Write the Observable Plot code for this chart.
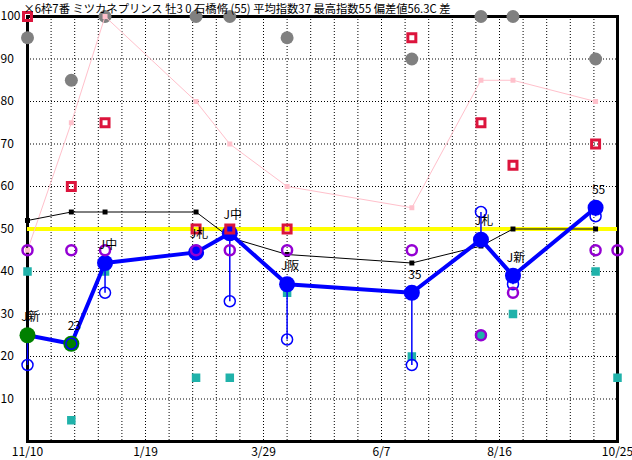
<!DOCTYPE html>
<html>
<head>
<meta charset="utf-8">
<script src="https://cdn.jsdelivr.net/npm/d3@7"></script>
<script src="https://cdn.jsdelivr.net/npm/@observablehq/plot@0.6"></script>
<style>
  html, body { margin: 0; padding: 0; background: #fff; }
  #chart svg { display: block; }
</style>
</head>
<body>
<div id="chart"></div>
<script>
const titleText = "×6枠7番 ミツカネプリンス 牡3 0 石橋脩 (55) 平均指数37 最高指数55 偏差値56.3C 差";

const raceDates = ["2023-11-10","2023-12-06","2023-12-26","2024-02-18","2024-03-09","2024-04-12","2024-06-25","2024-08-05","2024-08-24","2024-10-12"];
const mainIndex = [25, 23, 42, 44.5, 49, 37, 35, 47.5, 39, 55];
const raceLabels = ["J新", "23", "J中", "J札", "J中", "J阪", "35", "J札", "J新", "55"];
const pointColor = ["green", "green", "blue", "blue", "blue", "blue", "blue", "blue", "blue", "blue"];
const ringIndex = [18, 23, 35, 44.5, 33, 24, 18, 54, 37, 53];
const grayVals = [95, 85, 100, 100, 100, 95, 90, 100, 100, 90];
const pinkVals = [45, 75, 100, 80, 70, 60, 55, 85, 85, 80];
const blackVals = [52, 54, 54, 54, 48, 44, 42, 46, 50, 50];
const crimsonVals = [100, 60, 75, 50, 50, 50, 95, 75, 65, 70];

const extDates = [...raceDates, "2024-10-25"];
const purpleVals = [45, 45, 45, 45, 45, 45, 45, 25, 35, 45, 45];
const tealVals = [40, 5, 40, 15, 15, 35, 20, 25, 30, 40, 15];

const refLine = 50;
const yTicks = [10, 20, 30, 40, 50, 60, 70, 80, 90, 100];
const xTickDates = ["2023-11-10", "2024-01-19", "2024-03-29", "2024-06-07", "2024-08-16", "2024-10-25"];
const xTickLabels = ["11/10", "1/19", "3/29", "6/7", "8/16", "10/25"];
const gridStepDays = 14;

const P = s => new Date(s + "T00:00:00Z");
const races = raceDates.map((d, i) => ({
  date: P(d), v: mainIndex[i], label: raceLabels[i], color: pointColor[i],
  ring: ringIndex[i], gray: grayVals[i], pink: pinkVals[i], black: blackVals[i], crimson: crimsonVals[i]
}));
const ext = extDates.map((d, i) => ({ date: P(d), purple: purpleVals[i], teal: tealVals[i] }));
const xStart = P(xTickDates[0]), xEnd = P(xTickDates[xTickDates.length - 1]);
const gridDates = d3.utcDay.range(xStart, d3.utcDay.offset(xEnd, 1), 1).filter((d, i) => i % gridStepDays === 0);
const tickMap = new Map(xTickDates.map((d, i) => [+P(d), xTickLabels[i]]));

const font = "'Noto Sans CJK JP', sans-serif";

const chart = Plot.plot({
  width: 632,
  height: 460,
  marginLeft: 27,
  marginRight: 15,
  marginTop: 16,
  marginBottom: 19,
  style: { fontFamily: font, fontSize: "12px", background: "white", color: "black" },
  x: { type: "utc", domain: [xStart, xEnd] },
  y: { domain: [0, 100], axis: null },
  marks: [
    Plot.gridY(yTicks.slice(0, -1), { stroke: "black", strokeOpacity: 1, strokeDasharray: "1,2" }),
    Plot.gridX(gridDates.slice(1, -1), { stroke: "black", strokeOpacity: 1, strokeDasharray: "1,2" }),
    Plot.frame({ stroke: "black", strokeWidth: 3 }),
    Plot.text(yTicks, { y: d => d, text: d => String(d), frameAnchor: "left", dx: -27, textAnchor: "start", fontSize: 12, fill: "black" }),
    Plot.axisX(xTickDates.map(P), { tickSize: 0, tickPadding: 6, label: null, tickFormat: d => tickMap.get(+d), fontSize: 12 }),
    Plot.ruleY([refLine], { stroke: "#ffff00", strokeWidth: 4 }),
    Plot.dot(races, { x: "date", y: "gray", r: 6.5, fill: "#808080" }),
    Plot.line(races, { x: "date", y: "pink", stroke: "#ffc0cb", strokeWidth: 1 }),
    Plot.dot(races, { x: "date", y: "pink", symbol: "square", r: 2.8, fill: "#ffc0cb" }),
    Plot.line(races, { x: "date", y: "black", stroke: "black", strokeWidth: 1 }),
    Plot.dot(races, { x: "date", y: "black", symbol: "square", r: 2.8, fill: "black" }),
    Plot.dot(ext, { x: "date", y: "teal", symbol: "square", r: 4.8, fill: "#20b2aa" }),
    Plot.link(races, { x1: "date", x2: "date", y1: "v", y2: "ring", stroke: "blue", strokeWidth: 1.5 }),
    Plot.line(races, { x: "date", y: "v", stroke: "blue", strokeWidth: 4 }),
    Plot.dot(races, { x: "date", y: "v", r: 8, fill: "color" }),
    Plot.dot(races, { x: "date", y: "ring", r: 5.5, stroke: "blue", strokeWidth: 1.5, fill: "none" }),
    Plot.dot(ext, { x: "date", y: "purple", r: 5, stroke: "#9400d3", strokeWidth: 2.5, fill: "none" }),
    Plot.dot(races, { x: "date", y: "crimson", symbol: "square", r: 4.5, stroke: "#dc143c", strokeWidth: 3, fill: "none" }),
    Plot.text(races, { x: "date", y: "v", text: "label", dy: -18, dx: 3, fontSize: 12, fill: "black" }),
    Plot.text([titleText], { frameAnchor: "top-left", dx: -4, dy: -4, lineAnchor: "bottom", fontSize: 11.3, fill: "black" })
  ]
});
document.getElementById("chart").append(chart);
</script>
</body>
</html>
